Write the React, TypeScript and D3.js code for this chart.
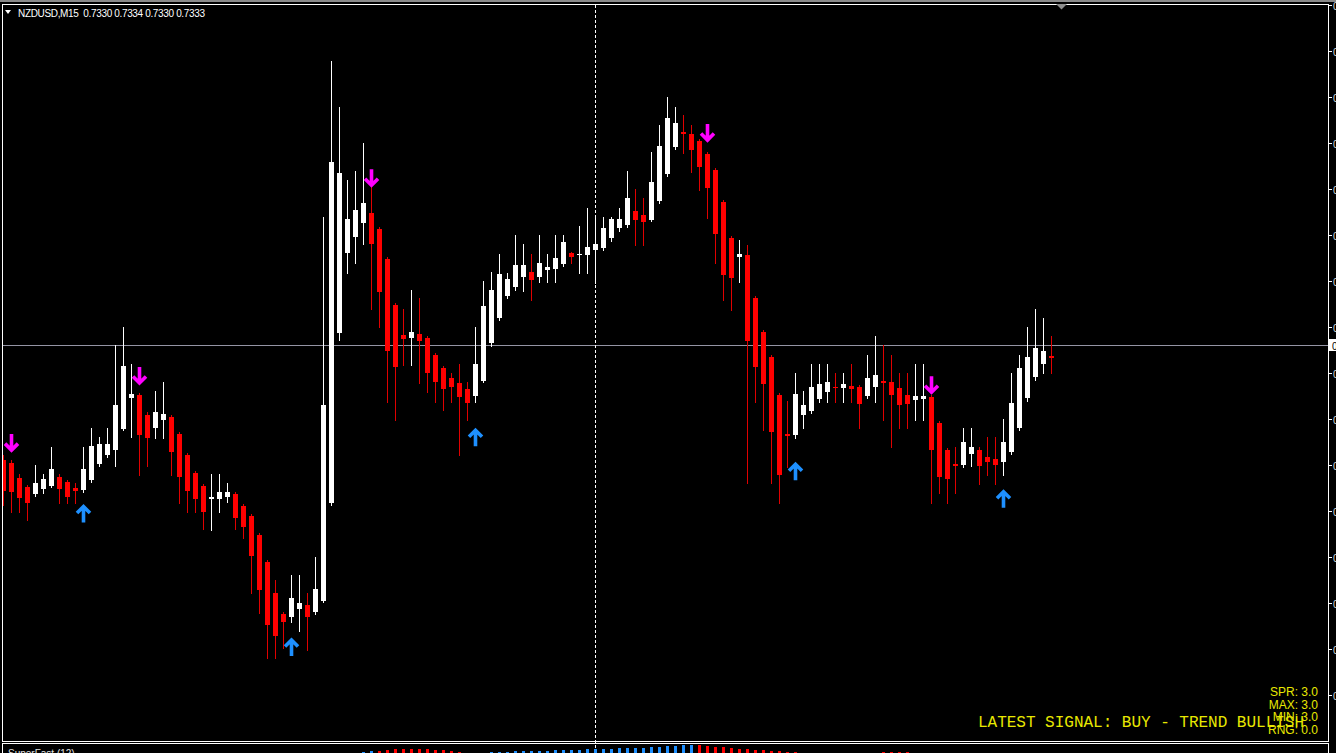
import React, { useEffect, useRef } from "react";
import * as d3 from "d3";

const W = 1336;
const H = 753;

// OHLC, NZDUSD M15 (132 bars)
const opens = [0.73205,0.73202,0.73186,0.73176,0.73168,0.73174,0.73178,0.73187,0.73182,0.73175,0.73173,0.73184,0.73201,0.73211,0.73216,0.73240,0.73273,0.73276,0.73254,0.73241,0.73249,0.73252,0.73234,0.73211,0.73191,0.73177,0.73163,0.73163,0.73166,0.73168,0.73155,0.73145,0.73124,0.73095,0.73061,0.73038,0.73034,0.73043,0.73048,0.73040,0.73052,0.73158,0.73343,0.73430,0.73448,0.73463,0.73474,0.73457,0.73424,0.73374,0.73341,0.73338,0.73342,0.73338,0.73320,0.73305,0.73295,0.73289,0.73283,0.73275,0.73292,0.73332,0.73360,0.73384,0.73393,0.73404,0.73410,0.73405,0.73412,0.73413,0.73418,0.73430,0.73428,0.73428,0.73433,0.73436,0.73446,0.73457,0.73461,0.73476,0.73472,0.73467,0.73487,0.73516,0.73546,0.73562,0.73560,0.73552,0.73538,0.73521,0.73486,0.73447,0.73426,0.73428,0.73382,0.73345,0.73317,0.73276,0.73234,0.73232,0.73254,0.73259,0.73272,0.73279,0.73285,0.73284,0.73286,0.73285,0.73275,0.73285,0.73291,0.73290,0.73284,0.73276,0.73271,0.73272,0.73274,0.73246,0.73216,0.73201,0.73200,0.73212,0.73216,0.73209,0.73207,0.73203,0.73214,0.73240,0.73272,0.73295,0.73310,0.73318];
const highs = [0.73211,0.73205,0.73190,0.73178,0.73200,0.73190,0.73220,0.73190,0.73184,0.73180,0.73220,0.73240,0.73230,0.73240,0.73330,0.73350,0.73310,0.73278,0.73258,0.73280,0.73290,0.73254,0.73236,0.73213,0.73193,0.73179,0.73190,0.73190,0.73180,0.73171,0.73158,0.73147,0.73126,0.73097,0.73075,0.73040,0.73080,0.73080,0.73061,0.73100,0.73470,0.73639,0.73589,0.73510,0.73520,0.73550,0.73507,0.73459,0.73426,0.73376,0.73370,0.73390,0.73382,0.73340,0.73322,0.73308,0.73300,0.73310,0.73290,0.73350,0.73400,0.73410,0.73429,0.73409,0.73450,0.73440,0.73429,0.73450,0.73429,0.73450,0.73450,0.73432,0.73460,0.73479,0.73470,0.73470,0.73470,0.73479,0.73520,0.73500,0.73490,0.73540,0.73570,0.73600,0.73589,0.73580,0.73570,0.73554,0.73540,0.73523,0.73488,0.73449,0.73445,0.73439,0.73384,0.73347,0.73320,0.73278,0.73270,0.73300,0.73280,0.73310,0.73310,0.73310,0.73300,0.73300,0.73310,0.73287,0.73320,0.73340,0.73330,0.73320,0.73300,0.73300,0.73310,0.73310,0.73276,0.73248,0.73218,0.73220,0.73240,0.73240,0.73220,0.73230,0.73230,0.73250,0.73300,0.73320,0.73350,0.73370,0.73360,0.73340];
const lows = [0.73157,0.73149,0.73149,0.73140,0.73166,0.73170,0.73176,0.73159,0.73159,0.73159,0.73171,0.73182,0.73199,0.73209,0.73199,0.73238,0.73230,0.73189,0.73199,0.73229,0.73229,0.73189,0.73159,0.73149,0.73149,0.73130,0.73129,0.73149,0.73160,0.73130,0.73121,0.73061,0.73039,0.72990,0.72990,0.73001,0.73029,0.73020,0.72999,0.73038,0.73051,0.73157,0.73336,0.73409,0.73420,0.73440,0.73370,0.73350,0.73268,0.73249,0.73309,0.73309,0.73289,0.73279,0.73268,0.73260,0.73268,0.73211,0.73249,0.73268,0.73290,0.73329,0.73358,0.73382,0.73390,0.73389,0.73379,0.73399,0.73399,0.73399,0.73416,0.73420,0.73409,0.73409,0.73398,0.73434,0.73443,0.73454,0.73459,0.73439,0.73439,0.73465,0.73485,0.73514,0.73543,0.73539,0.73518,0.73499,0.73468,0.73420,0.73379,0.73368,0.73399,0.73180,0.73268,0.73238,0.73180,0.73159,0.73198,0.73229,0.73240,0.73257,0.73268,0.73268,0.73268,0.73268,0.73268,0.73240,0.73273,0.73268,0.73249,0.73220,0.73240,0.73240,0.73249,0.73249,0.73159,0.73170,0.73159,0.73170,0.73198,0.73199,0.73179,0.73189,0.73179,0.73189,0.73212,0.73238,0.73270,0.73292,0.73300,0.73300];
const closes = [0.73171,0.73170,0.73164,0.73159,0.73180,0.73185,0.73196,0.73174,0.73166,0.73172,0.73196,0.73221,0.73223,0.73223,0.73265,0.73308,0.73277,0.73232,0.73229,0.73258,0.73255,0.73214,0.73187,0.73172,0.73163,0.73149,0.73165,0.73171,0.73171,0.73142,0.73132,0.73102,0.73064,0.73027,0.73014,0.73029,0.73055,0.73050,0.73035,0.73065,0.73265,0.73529,0.73517,0.73467,0.73477,0.73485,0.73440,0.73389,0.73324,0.73307,0.73337,0.73345,0.73334,0.73300,0.73291,0.73282,0.73285,0.73274,0.73268,0.73310,0.73373,0.73390,0.73408,0.73402,0.73417,0.73417,0.73401,0.73420,0.73415,0.73425,0.73442,0.73426,0.73429,0.73437,0.73440,0.73458,0.73467,0.73467,0.73490,0.73466,0.73464,0.73508,0.73547,0.73577,0.73572,0.73560,0.73543,0.73524,0.73501,0.73451,0.73407,0.73403,0.73429,0.73334,0.73307,0.73289,0.73235,0.73189,0.73232,0.73277,0.73265,0.73285,0.73288,0.73290,0.73284,0.73288,0.73283,0.73266,0.73295,0.73298,0.73289,0.73276,0.73266,0.73266,0.73275,0.73275,0.73216,0.73187,0.73184,0.73199,0.73225,0.73220,0.73199,0.73204,0.73201,0.73225,0.73267,0.73305,0.73317,0.73327,0.73324,0.73316];

// signal arrows: bar index and price level of the arrow tip
const sellBars = [1, 17, 46, 88, 116];
const sellLevels = [0.73214, 0.73287, 0.73502, 0.73551, 0.73277];
const buyBars = [10, 36, 59, 99, 125];
const buyLevels = [0.73157, 0.73012, 0.73240, 0.73203, 0.73173];

// price axis
const priceTicks = [0.7370,0.7365,0.7360,0.7355,0.7350,0.7345,0.7340,0.7335,0.7330,0.7325,0.7320,0.7315,0.7310,0.7305,0.7300,0.7295];
const bidPrice = 0.7333;

// SuperFast (12) histogram: bar index, value, direction (1 = up/blue, -1 = down/red)
const histBars = [45,46,47,48,49,50,51,52,53,54,55,56,57,58,59,60,61,62,63,64,65,66,67,68,69,70,71,72,73,74,75,76,77,78,79,80,81,82,83,84,85,86,87,88,89,90,91,92,93,94,95,96,97,98,99,100,101,110,111,112,113,114];
const histValues = [0.86,0.88,0.88,0.9,0.92,0.92,0.92,0.92,0.92,0.9,0.9,0.88,0.86,0.84,0.84,0.85,0.86,0.86,0.87,0.88,0.88,0.88,0.89,0.89,0.9,0.9,0.91,0.91,0.92,0.92,0.93,0.93,0.94,0.94,0.95,0.95,0.96,0.97,0.98,0.99,1.0,1.0,1.0,0.99,0.97,0.96,0.94,0.93,0.92,0.9,0.9,0.88,0.88,0.87,0.86,0.85,0.85,0.86,0.87,0.87,0.86,0.85];
const histDir = [1,1,-1,-1,-1,-1,-1,-1,-1,-1,-1,-1,-1,1,1,1,1,1,1,1,1,1,1,1,1,1,1,1,1,1,1,1,1,1,1,1,1,1,1,1,1,1,-1,-1,-1,-1,-1,-1,-1,-1,-1,-1,-1,-1,-1,-1,-1,-1,-1,-1,-1,-1];

const headerText = "NZDUSD,M15  0.7330 0.7334 0.7330 0.7333";
const infoLines = ["SPR: 3.0", "MAX: 3.0", "MIN: 3.0", "RNG: 0.0"];
const signalText = "LATEST SIGNAL: BUY - TREND BULLISH";
const subTitle = "SuperFast (12)";

export default function App() {
  const ref = useRef<SVGSVGElement | null>(null);

  useEffect(() => {
    const svg = d3.select(ref.current);
    svg.selectAll("*").remove();

    const paneLeft = 2, paneRight = 1328, paneTop = 4, paneBottom = 741;

    const x = d3.scaleLinear().domain([0, opens.length - 1]).range([3.5, 3.5 + 8 * (opens.length - 1)]);
    const y = d3.scaleLinear().domain([0.7295, 0.7370]).range([695, 5]);

    svg.append("rect").attr("width", W).attr("height", H).attr("fill", "#000");
    // window top edge
    svg.append("rect").attr("x", 0).attr("y", 0).attr("width", W).attr("height", 2).attr("fill", "#8a8a8a");

    const defs = svg.append("defs");
    defs.append("clipPath").attr("id", "mainClip").append("rect")
      .attr("x", paneLeft + 1).attr("y", paneTop + 1).attr("width", paneRight - paneLeft - 1).attr("height", paneBottom - paneTop - 1);

    const main = svg.append("g").attr("clip-path", "url(#mainClip)");

    // bid line
    const by = Math.round(y(bidPrice)) + 0.5;
    main.append("line").attr("x1", paneLeft).attr("x2", paneRight).attr("y1", by).attr("y2", by)
      .attr("stroke", "#9494a4").attr("stroke-width", 1);

    // vertical dashed line
    svg.append("line").attr("x1", 595.5).attr("x2", 595.5).attr("y1", paneTop + 1).attr("y2", H)
      .attr("stroke", "#ffffff").attr("stroke-width", 1).attr("stroke-dasharray", "3,2");

    const data = opens.map((o, i) => ({ i, o, h: highs[i], l: lows[i], c: closes[i] }));
    const color = (d: any) => (d.c >= d.o ? "#ffffff" : "#ff0000");

    main.selectAll("line.wick").data(data).enter().append("line")
      .attr("class", "wick")
      .attr("x1", (d) => x(d.i)).attr("x2", (d) => x(d.i))
      .attr("y1", (d) => Math.round(y(d.h))).attr("y2", (d) => Math.round(y(d.l)) + 1)
      .attr("stroke", (d) => (d.c >= d.o ? "#ffffff" : "#e00000")).attr("stroke-width", 1);

    main.selectAll("rect.body").data(data).enter().append("rect")
      .attr("class", "body")
      .attr("x", (d) => x(d.i) - 2.5)
      .attr("width", 5)
      .attr("y", (d) => Math.round(y(Math.max(d.o, d.c))))
      .attr("height", (d) => Math.max(1, Math.round(Math.abs(y(d.o) - y(d.c)))))
      .attr("fill", color);

    // arrows (bold stroked arrows, tip at the signal level)
    const downArrow = "M0,-18 L0,-2 M-6.5,-8.5 L0,-2 L6.5,-8.5";
    const upArrow = "M0,18 L0,2 M-6.5,8.5 L0,2 L6.5,8.5";
    main.selectAll("path.sell").data(sellBars).enter().append("path")
      .attr("class", "sell")
      .attr("d", downArrow)
      .attr("transform", (b, k) => `translate(${x(b)},${y(sellLevels[k])})`)
      .attr("fill", "none").attr("stroke", "#ff00ff").attr("stroke-width", 3.6)
      .attr("stroke-linejoin", "miter").attr("stroke-linecap", "butt");
    main.selectAll("path.buy").data(buyBars).enter().append("path")
      .attr("class", "buy")
      .attr("d", upArrow)
      .attr("transform", (b, k) => `translate(${x(b)},${y(buyLevels[k])})`)
      .attr("fill", "none").attr("stroke", "#1e90ff").attr("stroke-width", 3.6)
      .attr("stroke-linejoin", "miter").attr("stroke-linecap", "butt");

    // frame
    const frame = svg.append("g").attr("stroke", "#ffffff").attr("stroke-width", 1).attr("shape-rendering", "crispEdges");
    frame.append("line").attr("x1", paneLeft).attr("x2", paneRight + 1).attr("y1", paneTop + 0.5).attr("y2", paneTop + 0.5);
    frame.append("line").attr("x1", paneLeft).attr("x2", paneRight + 1).attr("y1", paneBottom + 0.5).attr("y2", paneBottom + 0.5);
    frame.append("line").attr("x1", paneLeft + 0.5).attr("x2", paneLeft + 0.5).attr("y1", paneTop).attr("y2", paneBottom + 1);
    frame.append("line").attr("x1", paneRight + 0.5).attr("x2", paneRight + 0.5).attr("y1", paneTop).attr("y2", paneBottom + 1);
    // sub window frame
    frame.append("line").attr("x1", paneLeft).attr("x2", paneRight + 1).attr("y1", 743.5).attr("y2", 743.5);
    frame.append("line").attr("x1", paneLeft + 0.5).attr("x2", paneLeft + 0.5).attr("y1", 743).attr("y2", H);
    frame.append("line").attr("x1", paneRight + 0.5).attr("x2", paneRight + 0.5).attr("y1", 743).attr("y2", H);

    // price axis ticks & labels
    const axis = svg.append("g");
    priceTicks.forEach((p) => {
      const ty = Math.round(y(p)) + 0.5;
      axis.append("line").attr("x1", paneRight + 1).attr("x2", paneRight + 4).attr("y1", ty).attr("y2", ty)
        .attr("stroke", "#ffffff").attr("stroke-width", 1);
      axis.append("text").attr("x", paneRight + 5).attr("y", ty + 4)
        .attr("font-family", "Liberation Sans, Arial, sans-serif").attr("font-size", 10)
        .attr("fill", "#d8d8d8").text(p.toFixed(4));
    });
    axis.append("rect").attr("x", paneRight + 1).attr("y", by - 6.5).attr("width", 50).attr("height", 12).attr("fill", "#ffffff");
    axis.append("text").attr("x", paneRight + 4).attr("y", by + 4)
      .attr("font-family", "Liberation Sans, Arial, sans-serif").attr("font-size", 10)
      .attr("fill", "#000").text(bidPrice.toFixed(4));

    // chart shift marker
    svg.append("path").attr("d", "M1056,4 L1067,4 L1061.5,9.5 Z").attr("fill", "#8c8c8c");

    // header
    svg.append("path").attr("d", "M5,10 L11,10 L8,14 Z").attr("fill", "#ffffff");
    svg.append("text").attr("x", 18).attr("y", 16.5)
      .attr("font-family", "Liberation Sans, Arial, sans-serif").attr("font-size", 10)
      .attr("fill", "#ffffff").attr("textLength", 187).attr("lengthAdjust", "spacing")
      .style("white-space", "pre").text(headerText);

    // info texts
    const infoY = [696, 708.5, 721, 733.5];
    infoLines.forEach((t, k) => {
      svg.append("text").attr("x", 1318).attr("y", infoY[k]).attr("text-anchor", "end")
        .attr("font-family", "Liberation Sans, Arial, sans-serif").attr("font-size", 12)
        .attr("fill", "#e8e800").text(t);
    });
    svg.append("text").attr("x", 978).attr("y", 727)
      .attr("font-family", "Courier New, Liberation Mono, monospace").attr("font-size", 16)
      .attr("fill", "#e8e800").attr("textLength", 326).attr("lengthAdjust", "spacing")
      .style("white-space", "pre").text(signalText);

    // sub window
    const sub = svg.append("g");
    const hy = d3.scaleLinear().domain([0, 1]).range([795, 745]);
    sub.selectAll("rect.hist").data(histBars).enter().append("rect")
      .attr("class", "hist")
      .attr("x", (b) => x(b) - 1.5).attr("width", 3)
      .attr("y", (b, k) => Math.round(hy(histValues[k])))
      .attr("height", (b, k) => H - Math.round(hy(histValues[k])))
      .attr("fill", (b, k) => (histDir[k] > 0 ? "#1e90ff" : "#ff0000"));
    sub.append("text").attr("x", 8).attr("y", 757)
      .attr("font-family", "Liberation Sans, Arial, sans-serif").attr("font-size", 10)
      .attr("fill", "#e0e0e0").text(subTitle);
  }, []);

  return (
    <svg
      ref={ref}
      width={W}
      height={H}
      style={{ position: "fixed", left: 0, top: 0, display: "block", background: "#000" }}
    />
  );
}
